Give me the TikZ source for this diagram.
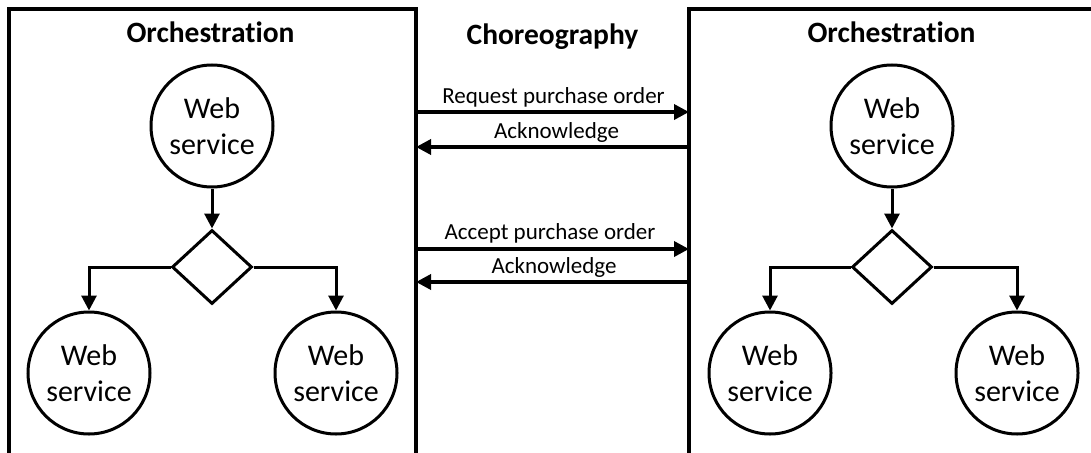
\documentclass[tikz,border=0pt]{standalone}
\usepackage{fontspec}
\setmainfont{Carlito}[Ligatures=NoCommon, Contextuals=NoAlternate]
\usetikzlibrary{shapes.geometric,arrows.meta}

\tikzset{
  frame/.style={line width=3.5pt},
  service/.style={circle, draw, line width=3pt, minimum size=122pt, inner sep=0pt,
    align=center, font=\fontsize{30}{36}\selectfont},
  decision/.style={diamond, draw, line width=3pt, minimum width=80pt,
    minimum height=74pt, inner sep=0pt},
  flow/.style={line width=3pt, -{Triangle[length=15pt,width=15pt]}},
  msg/.style={line width=3.5pt, -{Triangle[length=15pt,width=15pt]}},
  title/.style={anchor=base, inner sep=0pt, font=\fontsize{29.5}{35}\selectfont\bfseries},
  msglabel/.style={anchor=base, inner sep=0pt, font=\fontsize{23}{28}\selectfont},
}

\begin{document}
\begin{tikzpicture}[x=1pt, y=-1pt]
  \useasboundingbox (0,0) rectangle (1091,452);

  % the two orchestration frames, open at the bottom
  \draw[frame] (9,453) -- (9,9) -- (416,9) -- (416,453);
  \draw[frame] (689,453) -- (689,9) -- (1092,9);

  % left orchestration
  \node[title] (tl) at (210.5,43) {Orchestration};
  \node[service]  (la) at (212,126) {Web\\service};
  \node[decision] (ld) at (212,267) {};
  \node[service]  (lb) at (89,373)  {Web\\service};
  \node[service]  (lc) at (336,373) {Web\\service};
  \draw[flow] (la.south) -- (ld.north);
  \draw[flow] (ld.west) -| (lb.north);
  \draw[flow] (ld.east) -| (lc.north);

  % right orchestration
  \node[title] (tr) at (891.5,43) {Orchestration};
  \node[service]  (ra) at (892,126)  {Web\\service};
  \node[decision] (rd) at (892,267)  {};
  \node[service]  (rb) at (770,373)  {Web\\service};
  \node[service]  (rc) at (1017,373) {Web\\service};
  \draw[flow] (ra.south) -- (rd.north);
  \draw[flow] (rd.west) -| (rb.north);
  \draw[flow] (rd.east) -| (rc.north);

  % choreography messages between the frames
  \node[title] (tc) at (552.5,45) {Choreography};

  \coordinate (l1) at (416,112); \coordinate (r1) at (689,112);
  \coordinate (l2) at (416,147); \coordinate (r2) at (689,147);
  \coordinate (l3) at (416,249); \coordinate (r3) at (689,249);
  \coordinate (l4) at (416,282); \coordinate (r4) at (689,282);

  \draw[msg] (l1) -- (r1);
  \draw[msg] (r2) -- (l2);
  \draw[msg] (l3) -- (r3);
  \draw[msg] (r4) -- (l4);

  \node[msglabel] (m1) at (553.5,103) {Request purchase order};
  \node[msglabel] (m2) at (556.5,138) {Acknowledge};
  \node[msglabel] (m3) at (550,239)   {Accept purchase order};
  \node[msglabel] (m4) at (554,273)   {Acknowledge};
\end{tikzpicture}
\end{document}
